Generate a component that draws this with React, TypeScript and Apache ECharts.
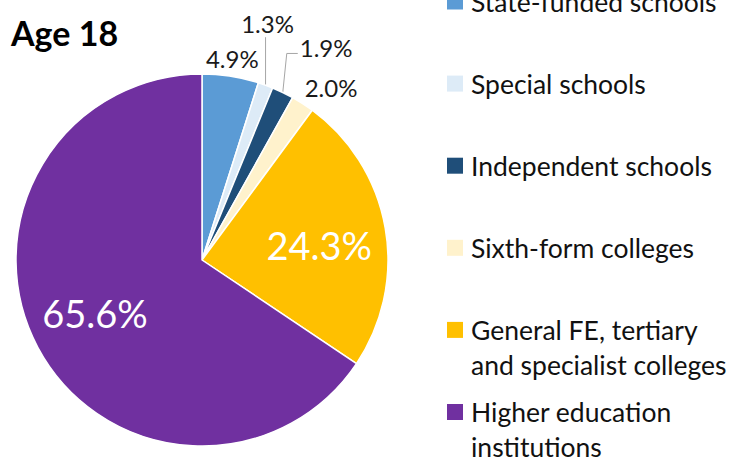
import React, { useEffect, useRef } from 'react';
import * as echarts from 'echarts';

const chartTitle = 'Age 18';
const categories = [
  'State-funded schools',
  'Special schools',
  'Independent schools',
  'Sixth-form colleges',
  'General FE, tertiary\nand specialist colleges',
  'Higher education\ninstitutions',
];
const values = [4.9, 1.3, 1.9, 2.0, 24.3, 65.6];
const colors = ['#5B9BD5', '#DDEBF7', '#1F4E79', '#FFF2CC', '#FFC000', '#7030A0'];

const CX = 202;
const CY = 260;
const R = 186;
const FONT = 'Lato, "Open Sans", sans-serif';

export default function App() {
  const ref = useRef<HTMLDivElement>(null);
  useEffect(() => {
    document.body.style.margin = '0';
    const chart = echarts.init(ref.current!, null, { renderer: 'svg' });
    const total = values.reduce((a, b) => a + b, 0);
    const mids: number[] = [];
    let acc = 0;
    values.forEach((v) => {
      mids.push(((acc + v / 2) / total) * 2 * Math.PI);
      acc += v;
    });
    const pt = (i: number, d: number) => [CX + d * Math.sin(mids[i]), CY - d * Math.cos(mids[i])];

    const labelLayout = (params: any) => {
      const i = params.dataIndex;
      const e = pt(i, R);
      if (i === 0) {
        const p = pt(0, R + 18);
        return { x: p[0] - 1, y: p[1], align: 'center', verticalAlign: 'middle' };
      }
      if (i === 1) {
        return {
          x: e[0] + 2, y: e[1] - 62, align: 'center', verticalAlign: 'middle',
          labelLinePoints: [[e[0], e[1]], [e[0], e[1] - 48], [e[0], e[1] - 48]],
        };
      }
      if (i === 2) {
        return {
          x: e[0] + 17, y: e[1] - 45, align: 'left', verticalAlign: 'middle',
          labelLinePoints: [[e[0], e[1]], [e[0] + 4, e[1] - 39], [e[0] + 15, e[1] - 39]],
        };
      }
      if (i === 3) {
        return { x: e[0] + 2, y: e[1] - 16, align: 'left', verticalAlign: 'middle' };
      }
      const p = pt(i, R * 0.64);
      const adj = i === 4 ? [0, 5] : [-2, -3];
      return { x: p[0] + adj[0], y: p[1] + adj[1], align: 'center', verticalAlign: 'middle' };
    };

    const legendGraphics: any[] = [];
    categories.forEach((c, i) => {
      const yc = 1.5 + 82.1 * i;
      legendGraphics.push({
        type: 'rect',
        shape: { x: 447, y: yc - 8, width: 16, height: 16 },
        style: { fill: colors[i] },
      });
      legendGraphics.push({
        type: 'text',
        x: 471,
        y: yc - 17.5,
        style: {
          text: c,
          font: `26.5px ${FONT}`,
          fill: '#111',
          lineHeight: 35,
          verticalAlign: 'top',
          align: 'left',
        },
      });
    });

    chart.setOption({
      animation: false,
      graphic: [
        {
          type: 'text',
          x: 11,
          y: 32,
          style: {
            text: chartTitle,
            font: `bold 34px ${FONT}`,
            fill: '#000',
            verticalAlign: 'middle',
            align: 'left',
          },
        },
        ...legendGraphics,
      ],
      series: [
        {
          type: 'pie',
          center: [CX, CY],
          radius: R,
          startAngle: 90,
          clockwise: true,
          avoidLabelOverlap: false,
          itemStyle: { borderColor: '#fff', borderWidth: 1.5 },
          label: {
            show: true,
            position: 'outside',
            fontFamily: FONT,
            formatter: (p: any) => `${Number(p.value).toFixed(1)}%`,
          },
          labelLine: { show: true, lineStyle: { color: '#A6A6A6', width: 1 } },
          labelLayout,
          emphasis: { disabled: true },
          data: values.map((v, i) => ({
            value: v,
            name: categories[i],
            itemStyle: { color: colors[i] },
            label: i >= 4
              ? { fontSize: 38, color: '#fff' }
              : { fontSize: 24, color: '#1a1a1a' },
            labelLine: { show: i === 1 || i === 2 },
          })),
        },
      ],
    });
    return () => chart.dispose();
  }, []);
  return <div ref={ref} style={{ width: 731, height: 457 }} />;
}
